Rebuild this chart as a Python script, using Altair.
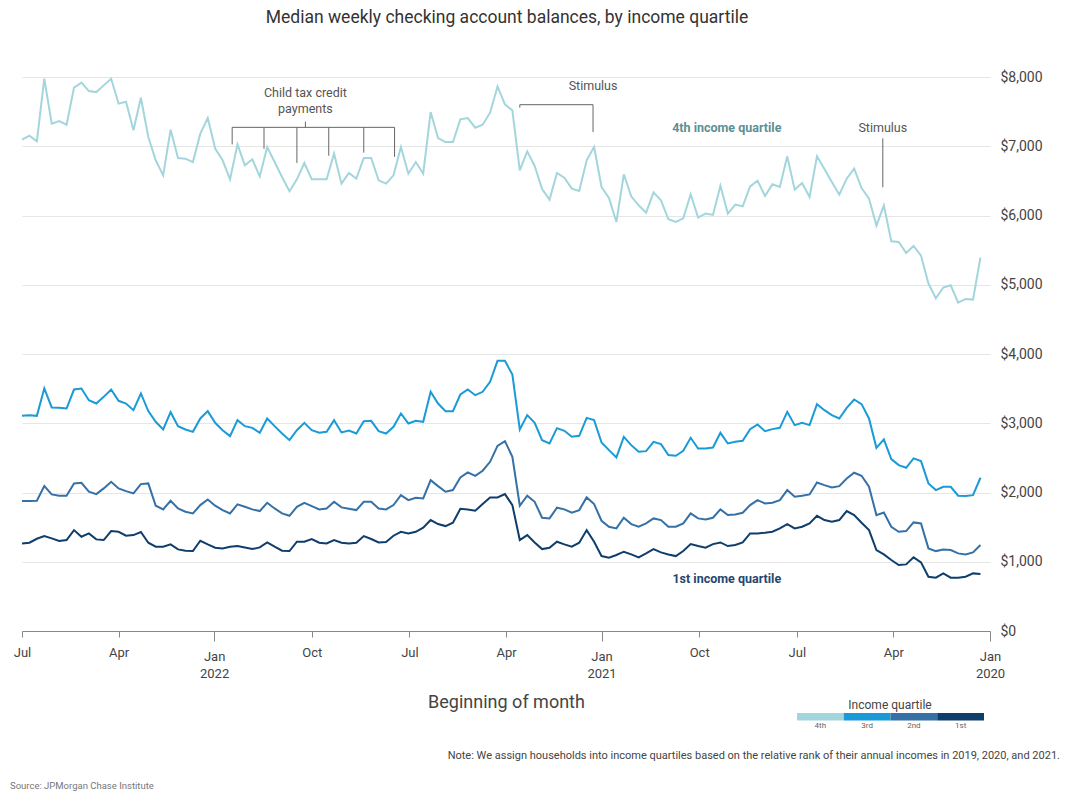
import altair as alt
import pandas as pd

# ---- data (weekly medians, chronological from Jan 2020) ----
q4 = [5393, 4786, 4795, 4743, 4993, 4960, 4805, 5017, 5421, 5560, 5459, 5618, 5628, 6147, 5854, 6244, 6397, 6677, 6532, 6301, 6484, 6671, 6854, 6267, 6469, 6374, 6854, 6411, 6450, 6282, 6503, 6421, 6133, 6157, 6027, 6431, 6008, 6027, 5970, 6306, 5960, 5906, 5945, 6219,
      6335, 6042, 6147, 6277, 6595, 5906, 6253, 6411, 6989, 6797, 6354, 6388, 6547, 6614, 6229, 6383, 6715, 6926, 6652, 7518, 7605, 7864, 7485, 7311, 7268, 7407, 7388, 7061, 7061, 7119, 7494, 6604, 6772, 6604, 6989, 6580, 6460, 6508, 6830, 6830, 6532, 6614, 6460, 6893,
      6522, 6522, 6522, 6758, 6522, 6349, 6556, 6772, 6989, 6565, 6811, 6724, 7027, 6522, 6797, 6966, 7407, 7182, 6772, 6821, 6830, 7239, 6580, 6797, 7134, 7701, 7230, 7643, 7615, 7975, 7879, 7782, 7797, 7918, 7846, 7311, 7364, 7326, 7975, 7071, 7153, 7095]
q3 = [2213, 1962, 1948, 1953, 2083, 2083, 2035, 2131, 2453, 2492, 2357, 2395, 2482, 2766, 2645, 3069, 3276, 3343, 3223, 3069, 3117, 3189, 3276, 2973, 3006, 2973, 3165, 2934, 2915, 2886, 2982, 2915, 2746, 2732, 2708, 2862, 2650, 2636, 2636, 2790, 2602, 2530, 2540, 2698,
      2732, 2597, 2588, 2684, 2804, 2506, 2612, 2722, 3045, 3078, 2819, 2804, 2891, 2929, 2708, 2756, 3006, 3117, 2910, 3704, 3901, 3901, 3598, 3454, 3405, 3487, 3415, 3175, 3175, 3285, 3454, 3021, 3035, 2997, 3141, 2949, 2852, 2886, 3035, 3030, 2852, 2896, 2867, 3045,
      2876, 2862, 2900, 3006, 2900, 2756, 2852, 2958, 3069, 2862, 2934, 2958, 3045, 2814, 2900, 3006, 3175, 3069, 2876, 2910, 2958, 3160, 2910, 3021, 3175, 3430, 3189, 3285, 3324, 3487, 3381, 3285, 3333, 3502, 3487, 3213, 3223, 3228, 3502, 3107, 3117, 3107]
q2 = [1241, 1135, 1106, 1121, 1169, 1178, 1154, 1193, 1554, 1568, 1443, 1433, 1505, 1712, 1674, 2083, 2241, 2285, 2203, 2092, 2073, 2107, 2145, 1972, 1953, 1938, 2035, 1890, 1852, 1842, 1890, 1818, 1708, 1683, 1674, 1756, 1635, 1611, 1626, 1698, 1554, 1505, 1505, 1602,
      1626, 1554, 1505, 1544, 1635, 1481, 1505, 1592, 1833, 1929, 1746, 1708, 1756, 1780, 1626, 1635, 1866, 1953, 1809, 2516, 2742, 2674, 2443, 2314, 2241, 2290, 2217, 2035, 2011, 2092, 2179, 1914, 1924, 1890, 1962, 1818, 1756, 1770, 1866, 1866, 1746, 1765, 1785, 1866,
      1770, 1756, 1804, 1852, 1794, 1664, 1698, 1770, 1852, 1732, 1756, 1794, 1828, 1698, 1746, 1809, 1900, 1818, 1698, 1722, 1770, 1881, 1756, 1809, 2131, 2121, 1987, 2020, 2059, 2155, 2059, 1977, 2011, 2140, 2131, 1953, 1953, 1972, 2092, 1881, 1876, 1876]
q1 = [822, 832, 784, 770, 770, 832, 770, 784, 991, 1063, 962, 952, 1025, 1106, 1169, 1457, 1563, 1674, 1732, 1602, 1578, 1602, 1664, 1554, 1505, 1481, 1544, 1481, 1433, 1419, 1409, 1409, 1279, 1241, 1227, 1279, 1255, 1202, 1227, 1255, 1154, 1082, 1106, 1135,
      1183, 1121, 1063, 1106, 1145, 1097, 1058, 1082, 1289, 1457, 1275, 1217, 1251, 1289, 1202, 1183, 1279, 1385, 1313, 1818, 1977, 1929, 1929, 1833, 1736, 1756, 1765, 1563, 1515, 1544, 1602, 1491, 1433, 1409, 1433, 1376, 1284, 1279, 1328, 1371, 1275, 1265, 1275, 1313,
      1265, 1275, 1328, 1289, 1289, 1154, 1159, 1217, 1279, 1207, 1183, 1207, 1227, 1217, 1193, 1202, 1251, 1303, 1154, 1159, 1178, 1251, 1217, 1217, 1275, 1429, 1385, 1376, 1433, 1443, 1313, 1323, 1409, 1361, 1457, 1313, 1299, 1337, 1371, 1332, 1275, 1265]

first_week = "2020-01-10"
quartiles = ["1st", "2nd", "3rd", "4th"]
colors = ["#0f3d6c", "#3571a6", "#1a9ad6", "#a3d6dc"]
legend_order = ["4th", "3rd", "2nd", "1st"]

# annotation brackets (date from, date to, value from, value to)
ann_x = ["2020-04-11", "2021-01-09", "2021-01-09", "2021-03-19",
         "2021-07-15", "2021-07-15", "2021-08-13", "2021-09-15", "2021-10-15", "2021-11-15", "2021-12-15", "2021-10-07"]
ann_x2 = ["2020-04-11", "2021-03-19", "2021-01-09", "2021-03-19",
          "2021-12-15", "2021-07-15", "2021-08-13", "2021-09-15", "2021-10-15", "2021-11-15", "2021-12-15", "2021-10-07"]
ann_y = [6407, 7600, 7205, 7557, 7273, 6848, 6908, 6863, 6759, 6963, 7027, 7273]
ann_y2 = [7114, 7600, 7600, 7600, 7273, 7273, 7273, 7273, 7273, 7273, 7273, 7355]

note_text = ["Stimulus", "Stimulus", "Child tax credit", "payments"]
note_date = ["2020-04-11", "2021-01-09", "2021-10-07", "2021-10-07"]
note_val = [7258, 7869, 7765, 7544]

series_label = ["4th income quartile", "1st income quartile"]
series_label_date = ["2020-09-05", "2020-09-05"]
series_label_val = [7258, 746]
series_label_color = ["#5e8f94", "#24476f"]

# ---- tables ----
dates = pd.date_range(first_week, periods=len(q4), freq="7D").strftime("%Y-%m-%d")
rows = []
for name, vals in zip(["4th", "3rd", "2nd", "1st"], [q4, q3, q2, q1]):
    for d, v in zip(dates, vals):
        rows.append({"date": d, "value": v, "quartile": name})
df = pd.DataFrame(rows)

def ms(s):
    return int(pd.Timestamp(s, tz="UTC").value // 10**6)

x_domain = [ms("2020-01-01"), ms("2022-07-01")]
tick_vals = [ms(t) for t in pd.date_range("2020-01-01", "2022-07-01", freq="QS").strftime("%Y-%m-%d")]

FONT = "Roboto"
xscale = alt.Scale(domain=x_domain, reverse=True)
yscale = alt.Scale(domain=[0, 8000])
cscale = alt.Scale(domain=quartiles, range=colors)

xaxis = alt.Axis(
    values=tick_vals,
    labelExpr="utcmonth(datum.value) === 0 ? ['Jan', utcFormat(datum.value, '%Y')] : utcFormat(datum.value, '%b')",
    tickSize={"condition": {"test": "utcmonth(datum.value) === 0", "value": 10}, "value": 6},
    tickColor="#888", domainColor="#888", grid=False,
    labelFont=FONT, labelFontSize=13, labelColor="#444", labelPadding=9,
    labelLineHeight=17, labelFlush=False, labelOverlap=False,
    title="Beginning of month", titleFont=FONT, titleFontSize=18, titleFontWeight="normal",
    titleColor="#444", titlePadding=13,
)
yaxis = alt.Axis(
    orient="right", values=list(range(0, 8001, 1000)), format="$,.0f",
    domain=False, ticks=False, labelPadding=10, grid=True, gridColor="#e6e6e6",
    labelFont=FONT, labelFontSize=14, labelColor="#444", title=None,
)

X = lambda f: alt.X(f, scale=xscale, axis=xaxis)
Y = lambda f: alt.Y(f, scale=yscale, axis=yaxis)

lines = alt.Chart(df).mark_line(strokeWidth=2).encode(
    x=X("date:T"), y=Y("value:Q"),
    color=alt.Color("quartile:N", scale=cscale, legend=None),
    detail="quartile:N",
)

ann_df = pd.DataFrame({"x": ann_x, "x2": ann_x2, "y": ann_y, "y2": ann_y2})
rules = alt.Chart(ann_df).mark_rule(color="#666", strokeWidth=1).encode(
    x=X("x:T"), x2="x2:T", y=Y("y:Q"), y2="y2:Q"
)

notes_df = pd.DataFrame({"t": note_text, "d": note_date, "v": note_val})
notes = alt.Chart(notes_df).mark_text(font=FONT, fontSize=12.5, color="#555").encode(
    x=X("d:T"), y=Y("v:Q"), text="t:N"
)

slabel_layers = []
for t, d, v, c in zip(series_label, series_label_date, series_label_val, series_label_color):
    slabel_layers.append(
        alt.Chart(pd.DataFrame({"t": [t], "d": [d], "v": [v]})).mark_text(
            font=FONT, fontSize=12.5, fontWeight="bold", color=c
        ).encode(x=X("d:T"), y=Y("v:Q"), text="t:N")
    )

def label(text, x, y, size, color, align="center", weight="normal"):
    return alt.Chart(pd.DataFrame({"t": [text]})).mark_text(
        font=FONT, fontSize=size, color=color, align=align, baseline="middle", fontWeight=weight
    ).encode(text="t:N", x=alt.value(x), y=alt.value(y))

title = label("Median weekly checking account balances, by income quartile", 485, -59, 17.5, "#333")
note = label("Note: We assign households into income quartiles based on the relative rank of their annual incomes in 2019, 2020, and 2021.",
             1038, 679, 11, "#444", align="right")
source = label("Source: JPMorgan Chase Institute", -12, 709, 9.5, "#777", align="left")
leg_title = label("Income quartile", 868, 628, 12, "#444")

main = alt.layer(lines, rules, notes, *slabel_layers, title, note, source, leg_title)

leg_df = pd.DataFrame({"q": legend_order})
leg_x = alt.X("q:N", scale=alt.Scale(domain=legend_order, range=[775, 962], paddingInner=0, paddingOuter=0), axis=None)
leg_rect = alt.Chart(leg_df).mark_rect().encode(
    x=leg_x, y=alt.value(636), y2=alt.value(643.5),
    color=alt.Color("q:N", scale=cscale, legend=None),
)
leg_text = alt.Chart(leg_df).mark_text(font=FONT, fontSize=8, color="#666", baseline="middle").encode(
    x=leg_x, y=alt.value(649), text="q:N"
)
legend = alt.layer(leg_rect, leg_text)

chart = alt.layer(main, legend).resolve_scale(x="independent").properties(
    width=968, height=554,
    padding={"left": 22, "top": 77, "right": 80, "bottom": 169},
    autosize=alt.AutoSizeParams(type="none"),
).configure_view(stroke=None)

chart.save("out.html", embed_options={"renderer": "svg", "actions": False})
